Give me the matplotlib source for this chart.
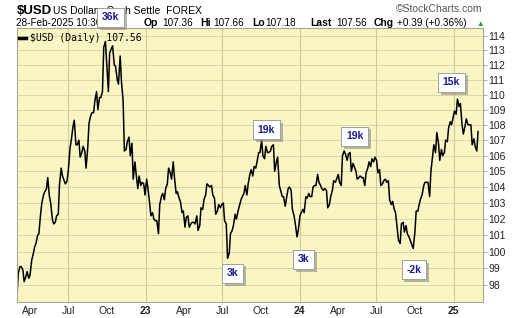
import numpy as np
import pandas as pd
import matplotlib
matplotlib.use('Agg')
import matplotlib.pyplot as plt
import matplotlib.patheffects as pe

plt.rcParams['font.family'] = ['Liberation Sans', 'DejaVu Sans']

# closes, Tuesdays and Fridays, 1-Mar-2022 .. 28-Feb-2025
tue = pd.date_range('2022-03-01', '2025-02-28', freq='W-TUE')
fri = pd.date_range('2022-03-01', '2025-02-28', freq='W-FRI')
dates = tue.union(fri)

usd_2022 = [97.4, 98.7, 99.1, 99.1, 98.9, 98.2, 98.5, 98.8, 98.4, 98.6,
            99.5, 99.8, 100.3, 100.5, 101.0, 101.1, 102.3, 103.0,
            103.5, 103.7, 103.9, 104.6, 103.4, 103.0, 102.0, 101.7,
            101.8, 102.2, 102.3, 104.2, 105.2, 104.7, 104.4, 104.2,
            104.4, 105.1, 106.5, 107.0, 107.9, 108.3, 106.7, 106.7, 107.0, 105.9,
            106.2, 106.6, 106.3, 105.2, 106.5, 108.1, 108.6, 108.8,
            108.8, 109.6, 110.2, 109.0, 109.8, 109.8, 110.2, 113.2, 113.6, 112.1,
            110.2, 112.8, 113.1, 113.3, 112.0, 111.9, 111.0, 110.7,
            112.6, 110.9, 109.6, 106.3, 106.4, 106.9, 107.2, 106.0,
            106.8, 104.5, 105.6, 104.8, 103.9, 104.7, 104.1, 104.3, 104.2, 103.5]
usd_2023 = [104.5, 103.9, 103.0, 102.2, 102.4, 102.0, 101.9, 101.9,
            101.1, 102.9, 103.4, 103.6, 103.2, 103.9, 104.2, 105.2,
            104.9, 104.5, 105.6, 104.6, 103.6, 103.7, 103.3, 103.1, 102.4, 102.5,
            101.5, 102.1, 102.2, 101.5, 101.7, 101.8, 101.8, 101.7,
            102.2, 101.3, 101.6, 102.7, 102.6, 103.2, 103.5, 104.2,
            104.1, 104.0, 104.1, 103.5, 103.3, 102.3, 102.5, 102.9, 102.7, 102.9,
            103.0, 101.9, 101.7, 99.6, 99.9, 101.1, 101.3, 101.6,
            102.3, 102.0, 102.5, 102.8, 103.2, 103.4, 103.6, 104.1,
            103.5, 104.2, 104.8, 105.1, 104.7, 105.3, 105.2, 105.6, 106.2, 106.2,
            107.0, 106.0, 105.8, 106.6, 106.2, 106.2, 106.3, 106.6,
            106.7, 105.0, 105.6, 105.9, 104.1, 103.8, 103.4, 103.4,
            102.8, 103.3, 103.9, 104.0, 103.8, 102.6, 102.2, 101.7, 100.9, 101.3]
usd_2024 = [102.2, 102.4, 102.6, 102.4, 103.4, 103.3, 103.6, 103.4,
            103.4, 104.0, 104.1, 104.1, 104.8, 104.3, 104.1, 103.9,
            103.8, 103.9, 103.8, 102.7, 102.9, 103.4, 103.8, 104.4, 104.3, 104.5,
            104.8, 104.3, 104.1, 106.0, 106.3, 106.1, 105.7, 106.1,
            106.2, 105.0, 105.5, 105.3, 105.0, 104.5, 104.6, 104.7, 104.6, 104.6,
            104.1, 104.9, 105.2, 105.6, 105.3, 105.8, 105.6, 105.9,
            105.7, 104.9, 105.1, 104.1, 104.2, 104.4, 104.5, 104.3,
            104.4, 103.2, 102.9, 103.1, 102.6, 102.4, 101.4, 100.7, 100.5, 101.7,
            101.8, 101.2, 101.6, 101.1, 100.9, 100.7, 100.4, 100.2,
            101.2, 102.5, 102.5, 102.9, 103.3, 103.5, 104.1, 104.3,
            104.3, 104.3, 103.4, 105.0, 106.0, 106.7, 106.2, 107.5, 106.8, 105.7,
            106.4, 106.0, 106.2, 107.0, 106.9, 107.8, 108.2, 108.0, 108.5]
usd_2025 = [108.9, 108.7, 109.7, 109.2, 109.4, 108.0, 107.4, 107.9, 108.4,
            108.0, 108.0, 108.0, 106.7, 107.1, 106.6, 106.3, 107.56]
usd = usd_2022 + usd_2023 + usd_2024 + usd_2025

yticks = list(range(98, 115))
month_ticks = ['2022-04-01', '2022-07-01', '2022-10-01', '2023-01-01',
               '2023-04-01', '2023-07-01', '2023-10-01', '2024-01-01',
               '2024-04-01', '2024-07-01', '2024-10-01', '2025-01-01']
month_labels = ['Apr', 'Jul', 'Oct', '23', 'Apr', 'Jul', 'Oct', '24',
                'Apr', 'Jul', 'Oct', '25']
grid_dates = ['2022-07-01', '2023-01-01', '2023-07-01', '2024-01-01',
              '2024-07-01', '2025-01-01']

# annotation boxes (text, centre in pixels)
notes = [('36k', 110.8, 17.5), ('19k', 266.5, 129.6), ('19k', 354.7, 136.3),
         ('15k', 451.5, 82.2), ('3k', 232.5, 273.2), ('3k', 303.3, 259.2),
         ('-2k', 413.8, 269.8)]

W, H = 520, 318
fig = plt.figure(figsize=(W / 100, H / 100), dpi=100)
fig.patch.set_facecolor('white')

def fx(x):
    return x / W

def fy(y):
    return 1 - y / H

ax = fig.add_axes([fx(17), fy(302.3), fx(482.7) - fx(17), fy(28.3) - fy(302.3)])
ax.set_facecolor('#F9F6C4')

ax.plot(dates, usd, color='black', lw=1.1, label='\\$USD (Daily) 107.56')

ax.set_yscale('log')
ax.set_ylim(96.98, 114.51)
ax.set_xlim(pd.Timestamp('2022-03-01'), pd.Timestamp('2025-03-11'))

ax.yaxis.tick_right()
ax.set_yticks(yticks)
ax.set_yticklabels([str(v) for v in yticks])
ax.yaxis.set_minor_locator(matplotlib.ticker.NullLocator())
ax.tick_params(axis='y', length=3, width=0.6, color='#999999', pad=1,
               labelsize=7.5, labelcolor='#222222')

ax.set_xticks(pd.to_datetime(month_ticks))
ax.set_xticklabels(month_labels)
ax.tick_params(axis='x', length=0, pad=3, labelsize=7.5, labelcolor='#222222')
for lab in ax.get_xticklabels():
    if lab.get_text().isdigit():
        lab.set_fontweight('bold')

for v in yticks:
    ax.axhline(v, color='#DAD7A8', lw=0.7, zorder=0)
for d in grid_dates:
    ax.axvline(pd.Timestamp(d), color='#CFCC9A', lw=0.8, zorder=0)

for s in ax.spines.values():
    s.set_color('#A8A890')
    s.set_linewidth(0.8)

leg = ax.legend(loc='upper left', bbox_to_anchor=(fx(14) - fx(17), 1.0),
                frameon=False, handlelength=0.7, handletextpad=0.4,
                borderaxespad=0.1,
                prop={'family': 'DejaVu Sans Mono', 'size': 7})
for h in leg.get_lines():
    h.set_linewidth(2.5)

# header
fig.text(fx(16.5), fy(14.5), '\\$USD', fontsize=9.5, fontweight='bold')
fig.text(fx(53), fy(14), 'US Dollar - Cash Settle  FOREX', fontsize=7.5)
fig.text(fx(16.5), fy(26.5), '28-Feb-2025 10:30am', fontsize=7.2)
parts = [('Op', 144, True), ('107.36', 162, False), ('Hi', 200, True),
         ('107.66', 213, False), ('Lo', 252, True), ('107.18', 265, False),
         ('Last', 310, True), ('107.56', 336, False), ('Chg', 374, True),
         ('+0.39 (+0.36%)', 397, False)]
for txt, x, b in parts:
    fig.text(fx(x), fy(26.5), txt, fontsize=7.5 if b else 7.2,
             fontweight='bold' if b else 'normal')
fig.text(fx(476), fy(25.5), '\u25b2', fontsize=5.5, color='#2a9a2a')
fig.text(fx(482), fy(12.5), '\u00a9StockCharts.com', fontsize=7.5,
         color='#555555', ha='right')

for txt, x, y in notes:
    t = fig.text(fx(x), fy(y), txt, fontsize=7.5, fontweight='bold',
                 color='#1a1a9a', ha='center', va='center', zorder=10,
                 bbox=dict(boxstyle='square,pad=0.45', fc='white',
                           ec='#999999', lw=0.6))
    t.get_bbox_patch().set_path_effects(
        [pe.withSimplePatchShadow(offset=(2, -2), shadow_rgbFace='#888888',
                                  alpha=0.6), pe.Normal()])

fig.savefig('out.png', dpi=100)
